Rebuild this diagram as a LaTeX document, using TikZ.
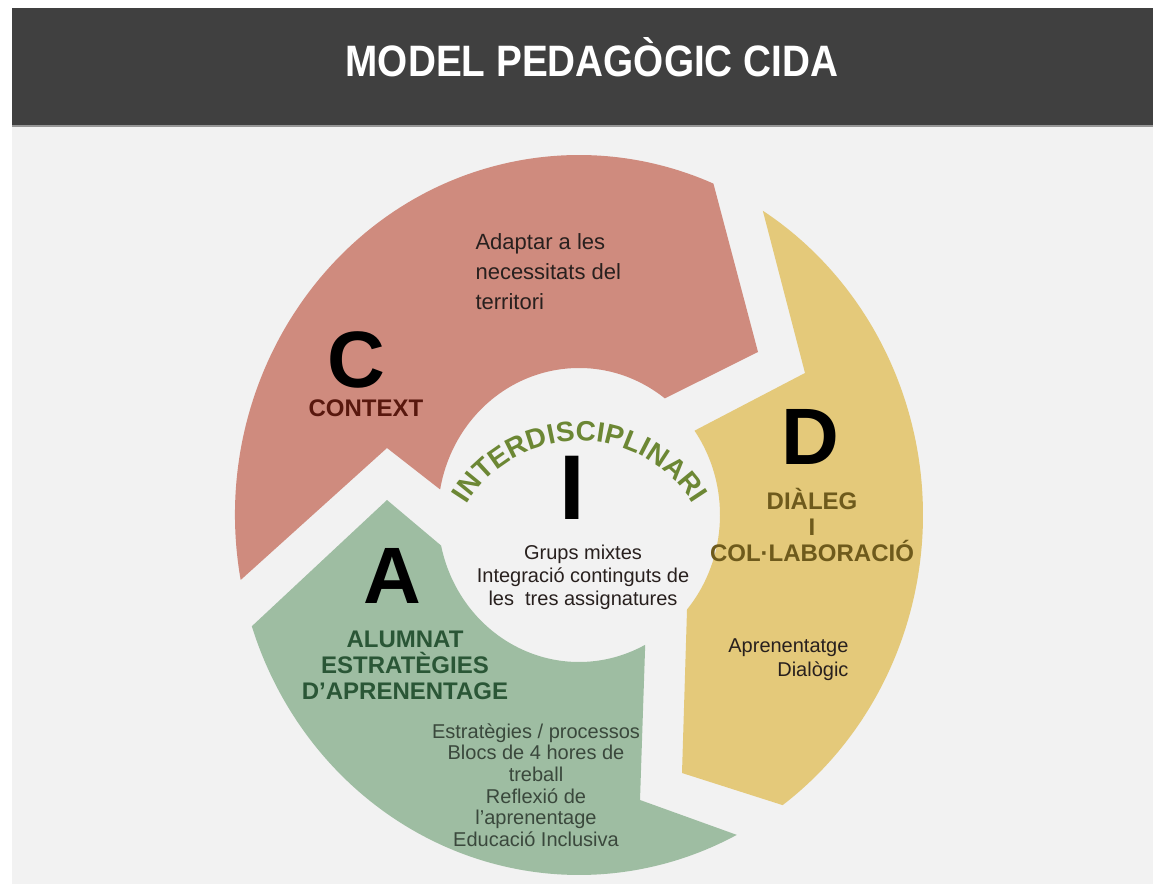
\documentclass[tikz,border=0pt]{standalone}
\usepackage{fontspec}
\setmainfont{Liberation Sans}
\usetikzlibrary{decorations.text}

\definecolor{headgray}{RGB}{64,64,64}
\definecolor{fonsgray}{RGB}{242,242,242}
\definecolor{linegray}{RGB}{150,150,150}
\definecolor{rosa}{RGB}{207,139,126}
\definecolor{groc}{RGB}{228,201,122}
\definecolor{verd}{RGB}{158,189,162}
\definecolor{marro}{RGB}{88,24,14}
\definecolor{verdfosc}{RGB}{42,86,54}
\definecolor{ocre}{RGB}{110,90,28}
\definecolor{oliva}{RGB}{108,135,52}
\definecolor{textfosc}{RGB}{40,32,30}
\definecolor{textverd}{RGB}{58,72,60}

\begin{document}
\begin{tikzpicture}[x=1pt,y=1pt,
  lletra/.style={font=\fontsize{80}{80}\selectfont\bfseries},
  titol/.style={font=\fontsize{24}{26}\selectfont\bfseries, align=center},
  cos/.style={font=\fontsize{20}{23}\selectfont, text=textfosc}]

\useasboundingbox (0,0) rectangle (1153,884);
\fill[white] (0,0) rectangle (1153,884);
\fill[fonsgray] (12,0) rectangle (1153,757);
\fill[linegray] (12,757) rectangle (1153,759);
\fill[headgray] (12,759) rectangle (1153,876);
\node[font=\fontsize{44}{44}\selectfont\bfseries, text=white] (title) at (592,827) {\scalebox{0.88}[1]{MODEL PEDAGÒGIC CIDA}};

% les tres fletxes del cercle
\fill[rosa, shift={(579,369)}] (190.4:344 and 360) arc[start angle=190.4, end angle=67, x radius=344, y radius=360]
  -- (179,163) -- (52.5:141 and 147) arc[start angle=52.5, end angle=170, x radius=141, y radius=147] -- (-192,67) -- cycle;
\fill[groc, shift={(579,369)}] (57.7:344 and 360) arc[start angle=57.7, end angle=-53.7, x radius=344, y radius=360]
  -- (103,-258) -- (-40:141 and 147) arc[start angle=-40, end angle=35, x radius=141, y radius=147] -- (226,142) -- cycle;
\fill[verd, shift={(579,369)}] (-62.7:344 and 360) arc[start angle=-62.7, end angle=-162, x radius=344, y radius=360]
  -- (-192,15) -- (-168:141 and 147) arc[start angle=-168, end angle=-62, x radius=141, y radius=147] -- (61,-285) -- cycle;

\path[decorate, shift={(580,310)}, decoration={text along path, text align=center,
  text={|\fontsize{28}{28}\selectfont\bfseries\color{oliva}|INTERDISCIPLINARI}}]
  (150:133) arc[start angle=150, end angle=30, radius=133];

\node[lletra] (lletraC) at (356,524) {C};
\node[titol, text=marro] (context) at (366,476) {CONTEXT};
\node[cos, anchor=west, align=left, font=\fontsize{22}{30}\selectfont] (adaptar) at (472,612) {Adaptar a les\\necessitats del\\territori};

\node[font=\fontsize{92}{92}\selectfont\bfseries] (lletraI) at (572,396) {I};
\node[cos, align=center] (grups) at (583,307) {Grups mixtes\\Integració continguts de\\les~ tres assignatures};

\node[lletra] (lletraA) at (392,308) {A};
\node[titol, text=verdfosc] (alumnat) at (405,219) {ALUMNAT\\ESTRATÈGIES\\D’APRENENTAGE};
\node[cos, text=textverd, align=center, font=\fontsize{20}{21.6}\selectfont] (estrategies) at (536,99)
  {Estratègies / processos\\Blocs de 4 hores de\\treball\\Reflexió de\\l’aprenentage\\Educació Inclusiva};

\node[lletra] (lletraD) at (810,447) {D};
\node[titol, text=ocre] (dialeg) at (812,359) {DIÀLEG\\I\\COL·LABORACIÓ};
\node[cos, align=right, anchor=east, font=\fontsize{20}{24}\selectfont] (aprenentatge) at (852,224) {Aprenentatge\\Dialògic};
\end{tikzpicture}
\end{document}
